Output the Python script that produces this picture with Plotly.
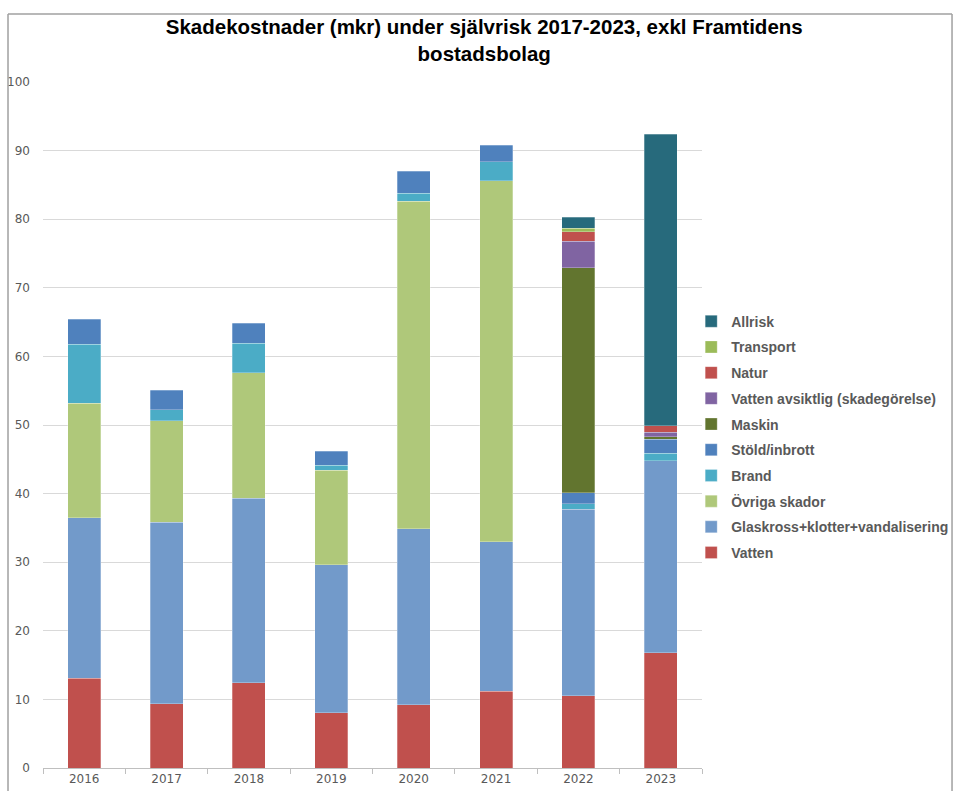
import plotly.graph_objects as go

years = ["2016", "2017", "2018", "2019", "2020", "2021", "2022", "2023"]

vatten = [13.1, 9.4, 12.4, 8.05, 9.2, 11.2, 10.5, 16.8]
glaskross = [23.4, 26.4, 26.9, 21.55, 25.7, 21.8, 27.2, 28.0]
ovriga = [16.7, 14.8, 18.3, 13.8, 47.7, 52.6, None, None]
brand = [8.55, 1.6, 4.35, 0.7, 1.15, 2.75, 0.85, 1.1]
stold = [3.7, 2.85, 2.85, 2.1, 3.25, 2.45, 1.55, 2.0]
maskin = [None, None, None, None, None, None, 32.8, 0.4]
vatten_avs = [None, None, None, None, None, None, 3.9, 0.65]
natur = [None, None, None, None, None, None, 1.4, 0.95]
transport = [None, None, None, None, None, None, 0.45, None]
allrisk = [None, None, None, None, None, None, 1.65, 42.45]

series = [
    ("Vatten", vatten, "#C0504D"),
    ("Glaskross+klotter+vandalisering", glaskross, "#729ACA"),
    ("Övriga skador", ovriga, "#AFC87A"),
    ("Brand", brand, "#4BACC6"),
    ("Stöld/inbrott", stold, "#4F81BD"),
    ("Maskin", maskin, "#62752F"),
    ("Vatten avsiktlig (skadegörelse)", vatten_avs, "#8064A2"),
    ("Natur", natur, "#C0504D"),
    ("Transport", transport, "#9BBB59"),
    ("Allrisk", allrisk, "#276A7C"),
]

y_ticks = list(range(0, 101, 10))

fig = go.Figure()
n = len(series)
for i, (name, vals, color) in enumerate(series):
    fig.add_trace(go.Bar(
        x=years, y=vals, name=name, legendgroup=name, legendrank=1000 + (n - i),
        marker=dict(color=color, line=dict(color="rgba(255,255,255,0.45)", width=0.6)),
    ))

grey = "#595959"
fig.update_layout(
    width=957, height=791,
    barmode="stack", bargap=0.6,
    paper_bgcolor="white", plot_bgcolor="white",
    margin=dict(l=43, r=255, t=82, b=23, autoexpand=False),
    title=dict(
        text="Skadekostnader (mkr) under självrisk 2017-2023, exkl Framtidens<br>bostadsbolag",
        font=dict(family="Liberation Sans, Arial, sans-serif", size=20.5, color="#000000", weight="bold"),
        x=0.506, xref="container", xanchor="center",
        y=0.957, yref="container", yanchor="top",
    ),
    legend=dict(
        x=0.9836, xanchor="left", y=0.674, yanchor="top",
        traceorder="grouped", tracegroupgap=4.5,
        font=dict(family="Liberation Sans, Arial, sans-serif", size=14, color=grey, weight="bold"),
        bgcolor="rgba(0,0,0,0)",
    ),
    xaxis=dict(
        type="category", showgrid=False, showline=True, linecolor="#BFBFBF", linewidth=1,
        ticks="outside", tickson="boundaries", ticklen=5, tickcolor="#BFBFBF",
        tickfont=dict(family="DejaVu Sans, sans-serif", size=12, color=grey),
    ),
    yaxis=dict(
        range=[0, 100], tickvals=y_ticks, showgrid=True, gridcolor="#D9D9D9", gridwidth=1,
        zeroline=False, showline=False, ticks="", ticklabelstandoff=12,
        tickfont=dict(family="DejaVu Sans, sans-serif", size=12, color=grey),
    ),
    shapes=[
        dict(type="line", xref="paper", yref="paper", x0=-0.0531, x1=1.3794, y0=1.0991, y1=1.0991,
             line=dict(color="#A0A0A0", width=1.5)),
        dict(type="line", xref="paper", yref="paper", x0=-0.0531, x1=-0.0531, y0=-0.05, y1=1.0991,
             line=dict(color="#A0A0A0", width=1.5)),
        dict(type="line", xref="paper", yref="paper", x0=1.3794, x1=1.3794, y0=-0.05, y1=1.0991,
             line=dict(color="#A0A0A0", width=1.5)),
    ],
)

fig.write_html("out.html")
